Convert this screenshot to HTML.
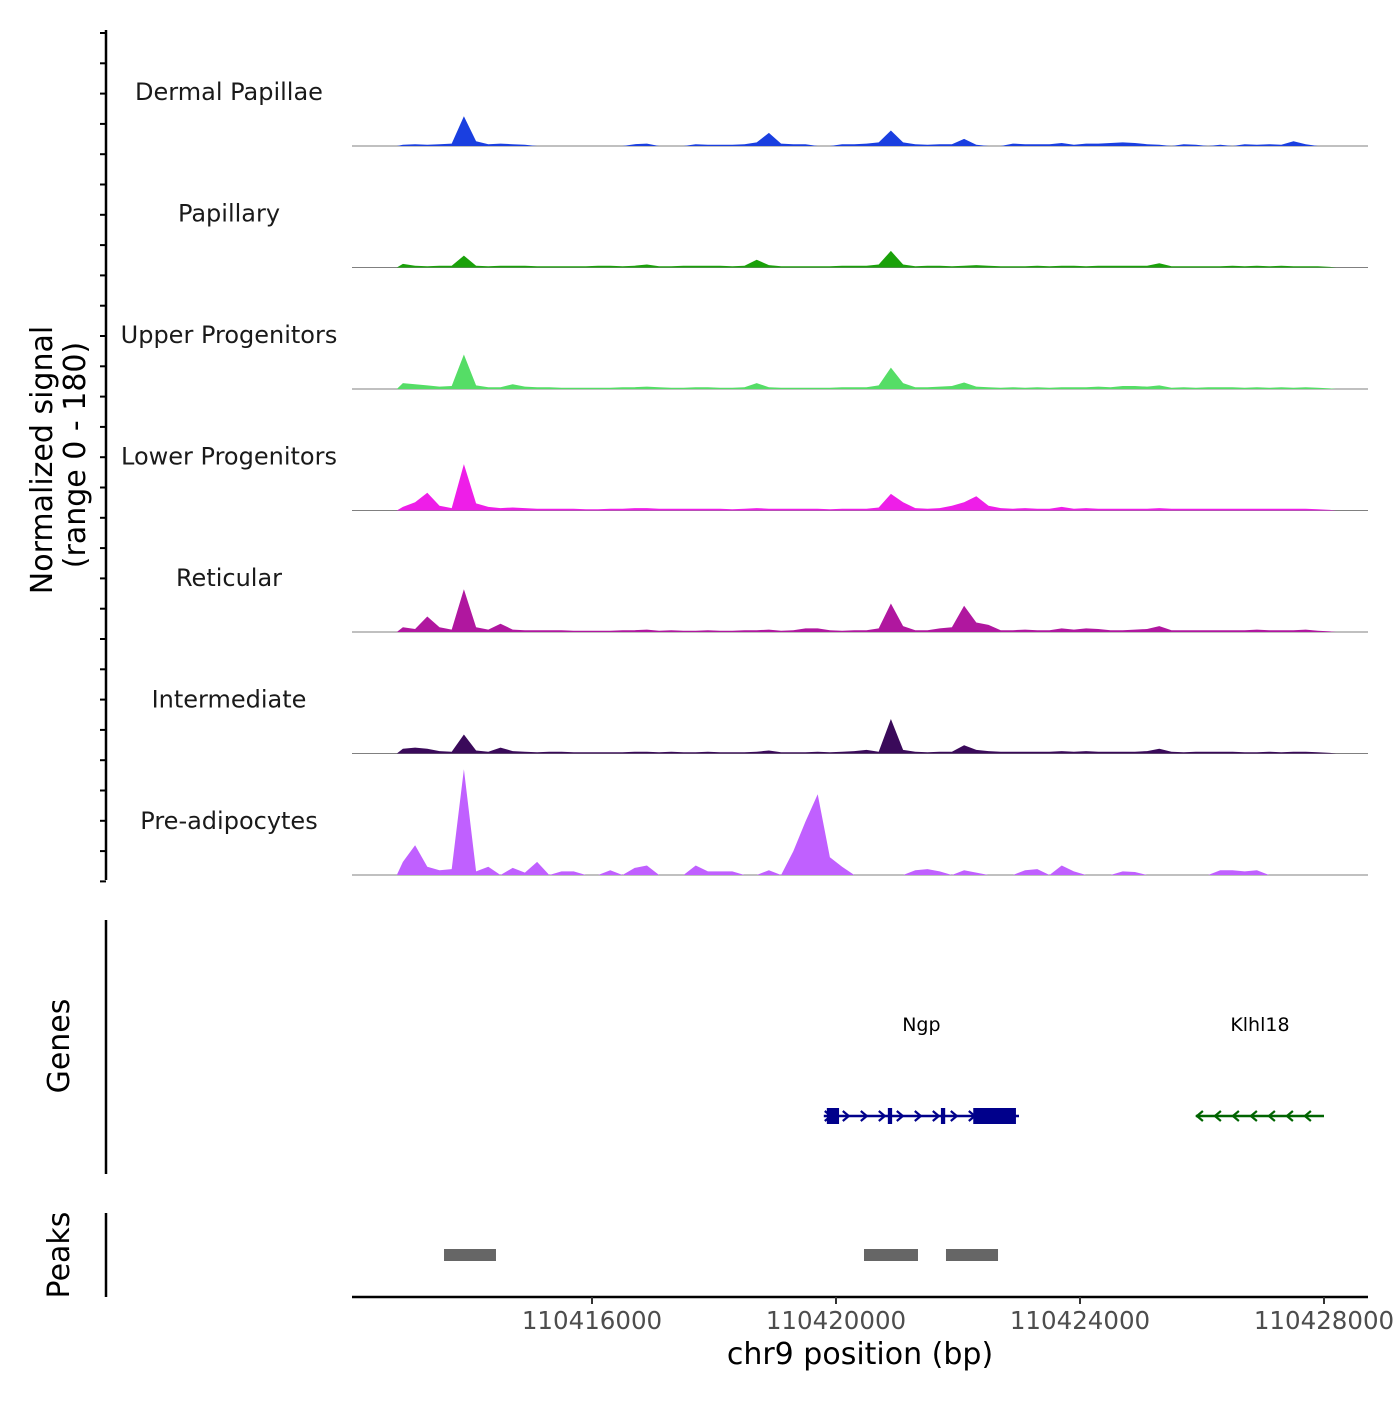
<!DOCTYPE html>
<html><head><meta charset="utf-8"><style>
body{margin:0;background:#fff}
svg{font-family:"DejaVu Sans","Liberation Sans",sans-serif}
</style></head><body>
<svg id="chart" width="1400" height="1400" viewBox="0 0 1400 1400" xmlns="http://www.w3.org/2000/svg">
<g id="tracks"></g>
<g id="axes"></g>
<g id="genes"></g>
<g id="peaks"></g>
</svg>
<script>
const trackNames = ["Dermal Papillae","Papillary","Upper Progenitors","Lower Progenitors","Reticular","Intermediate","Pre-adipocytes"];
const trackColors = ["#1a3fe0","#1aa10a","#55dd66","#ee1ee8","#b0179f","#3a0a5a","#c060ff"];
const binStart = 110412800;
const binSize = 200;
const sigDP = [2,3,2,3,4,50,8,3,4,3, 2,0,0,0,0,0,0,0,0,3, 4,0,0,0,3,2,2,2,3,6, 22,4,3,3,0,0,3,3,4,6, 26,6,3,2,3,3,12,2,0,0, 4,3,3,3,5,2,4,4,5,6, 5,3,2,0,3,2,0,2,0,3, 2,3,2,8,3,0,0];
const sigPap = [6,3,2,3,3,20,3,2,3,3, 3,2,2,2,2,2,3,3,2,3, 5,2,2,3,3,3,3,2,3,13, 4,2,2,2,2,2,3,3,3,5, 28,5,2,3,3,2,3,4,3,2, 2,2,3,2,3,3,2,3,3,3, 3,3,7,2,2,2,2,2,3,2, 3,2,3,2,2,2,1];
const sigUpper = [10,8,6,4,5,58,6,3,3,8, 4,3,3,2,2,2,2,2,3,3, 4,3,2,2,3,3,2,2,3,10, 3,2,2,2,2,2,3,3,3,6, 36,10,3,3,4,5,11,4,3,2, 3,2,3,2,3,3,3,4,3,5, 5,4,6,2,3,2,3,3,3,2, 3,2,3,2,3,2,1];
const sigLower = [6,14,30,8,4,78,12,6,4,5, 4,3,3,3,3,2,2,3,3,4, 4,3,3,3,3,3,3,2,3,4, 3,3,3,3,3,2,3,3,3,5, 28,14,4,3,4,8,14,24,8,4, 3,4,3,3,6,3,4,3,3,3, 3,3,4,3,3,3,3,3,3,3, 3,3,3,3,3,2,1];
const sigRet = [8,5,26,8,4,72,8,4,14,4, 3,3,3,3,2,2,2,2,3,3, 4,2,3,2,2,3,2,2,3,3, 4,2,3,6,6,3,2,3,3,6, 48,10,3,3,6,8,44,16,12,3, 3,4,3,3,6,4,6,5,3,3, 4,5,10,3,3,3,3,3,3,3, 4,3,3,3,4,2,1];
const sigInter = [8,10,8,4,3,32,5,3,10,4, 3,2,3,3,2,2,2,2,2,3, 3,2,3,2,2,3,2,2,2,3, 5,2,2,2,3,2,3,4,6,3, 58,6,3,2,3,3,14,6,4,3, 3,3,3,3,4,3,4,3,3,3, 3,4,8,3,2,3,3,3,3,2, 2,3,2,3,3,2,1];
const sigPre = [22,50,14,8,10,178,6,14,0,12, 4,22,0,6,6,0,0,8,0,12, 16,0,0,0,16,6,6,6,0,0, 8,0,40,90,136,30,14,0,0,0, 0,0,8,10,6,0,8,4,0,0, 0,8,10,0,16,6,0,0,0,6, 5,0,0,0,0,0,0,8,8,6, 8,0,0,0,0,0,0];
const signals = [sigDP,sigPap,sigUpper,sigLower,sigRet,sigInter,sigPre];
const xTicks = [110416000,110420000,110424000,110428000];
const yMax = 180;
const geneNames = ["Ngp","Klhl18"];
const geneStarts = [110419800,110425900];
const geneEnds = [110423000,110428000];
const geneStrands = [1,-1];
const ngpExonStarts = [110419850,110420850,110421720,110422250];
const ngpExonEnds = [110420050,110420920,110421790,110422950];
const peakStarts = [110413574,110420459,110421803];
const peakEnds = [110414426,110421344,110422656];

const NS="http://www.w3.org/2000/svg";
function mk(tag,attrs,parent){const e=document.createElementNS(NS,tag);for(const k in attrs)e.setAttribute(k,attrs[k]);parent.appendChild(e);return e;}
const xs = bp => 592 + (bp-110416000)*(244/4000);
const trackH = 121.5;
const baseY = i => 146 + i*trackH;
const ys = (v,i) => baseY(i) - v/yMax*107;

const tg=document.getElementById('tracks');
signals.forEach((arr,i)=>{
  const b=baseY(i);
  const line=mk('line',{x1:352,x2:1368,y1:b,y2:b,stroke:'#808080','stroke-width':1},tg);
  
  
  let pts=[[xs(binStart),b]];
  arr.forEach((v,j)=>{pts.push([xs(binStart+(j+0.5)*binSize),ys(v,i)]);});
  pts.push([xs(binStart+arr.length*binSize),b]);
  const p=mk('polygon',{points:pts.map(q=>q[0].toFixed(1)+','+q[1].toFixed(1)).join(' '),fill:trackColors[i]},tg);
  
  
  const t=mk('text',{x:229,y:b-46,'text-anchor':'middle','font-size':24,fill:'#1a1a1a'},tg);
  t.textContent=trackNames[i];
  
  
});

const ag=document.getElementById('axes');
mk('line',{x1:106,x2:106,y1:30,y2:880,stroke:'#000','stroke-width':2.5},ag);
for(let k=0;k<=28;k++){const y=33+k*30.3;mk('line',{x1:100,x2:106,y1:y,y2:y,stroke:'#000','stroke-width':2},ag);}
let yt=mk('text',{transform:'translate(52,460) rotate(-90)','text-anchor':'middle','font-size':30,fill:'#000'},ag);
yt.textContent='Normalized signal';


let yt2=mk('text',{transform:'translate(85,455) rotate(-90)','text-anchor':'middle','font-size':30,fill:'#000'},ag);
yt2.textContent='(range 0 - 180)';


mk('line',{x1:106,x2:106,y1:920,y2:1174,stroke:'#000','stroke-width':2.5},ag);
let gt=mk('text',{transform:'translate(69,1046) rotate(-90)','text-anchor':'middle','font-size':30,fill:'#000'},ag);
gt.textContent='Genes';


mk('line',{x1:106,x2:106,y1:1213,y2:1297,stroke:'#000','stroke-width':2.5},ag);
let pt=mk('text',{transform:'translate(69,1255) rotate(-90)','text-anchor':'middle','font-size':30,fill:'#000'},ag);
pt.textContent='Peaks';


mk('line',{x1:352,x2:1368,y1:1297,y2:1297,stroke:'#000','stroke-width':2.5},ag);
xTicks.forEach(v=>{
  const x=xs(v);
  mk('line',{x1:x,x2:x,y1:1297,y2:1304,stroke:'#333','stroke-width':2},ag);
  const t=mk('text',{x:x,y:1329,'text-anchor':'middle','font-size':24.5,fill:'#4d4d4d'},ag);
  t.textContent=String(v);
  
  
});
let xt=mk('text',{x:860,y:1364,'text-anchor':'middle','font-size':30,fill:'#000'},ag);
xt.textContent='chr9 position (bp)';



const gg=document.getElementById('genes');
const gy=1116;
geneNames.forEach((n,i)=>{
  const col=geneStrands[i]>0?'#00008b':'#006400';
  const x0=xs(geneStarts[i]),x1=xs(geneEnds[i]);
  const l=mk('line',{x1:x0,x2:x1,y1:gy,y2:gy,stroke:col,'stroke-width':2.5},gg);
  
  
  for(let x=x0+4;x<x1;x+=18){
    const d=geneStrands[i]>0?`M${x-3},${gy-5} L${x+3},${gy} L${x-3},${gy+5}`:`M${x+3},${gy-5} L${x-3},${gy} L${x+3},${gy+5}`;
    mk('path',{d:d,stroke:col,'stroke-width':2.2,fill:'none'},gg);
  }
  const t=mk('text',{x:(x0+x1)/2,y:1031,'text-anchor':'middle','font-size':19,fill:'#000'},gg);
  t.textContent=n;
  
  
});
ngpExonStarts.forEach((s,j)=>{
  const x0=xs(s),x1=xs(ngpExonEnds[j]);
  const r=mk('rect',{x:x0,y:gy-8,width:x1-x0,height:16,fill:'#00008b'},gg);
  
  
});

const pg=document.getElementById('peaks');
peakStarts.forEach((s,j)=>{
  const x0=xs(s),x1=xs(peakEnds[j]);
  const r=mk('rect',{x:x0,y:1249,width:x1-x0,height:12,fill:'#666666'},pg);
  
  
});
</script>
</body></html>
